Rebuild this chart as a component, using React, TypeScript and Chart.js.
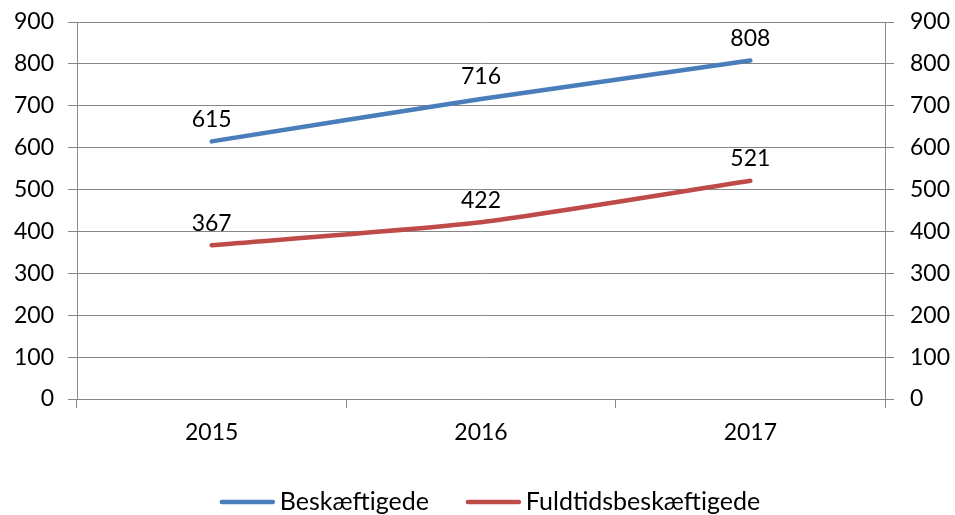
import React, { useEffect, useRef } from "react";
import { Chart, registerables } from "chart.js";

Chart.register(...registerables);

const categories = ["2015", "2016", "2017"];
const beskaeftigede = [615, 716, 808];
const fuldtids = [367, 422, 521];
const seriesNames = ["Beskæftigede", "Fuldtidsbeskæftigede"];
const seriesColors = ["#4A7EBB", "#BE4B48"];

const FONT = "Lato, 'Open Sans', sans-serif";

const dataLabels = {
  id: "dataLabels",
  afterDatasetsDraw(chart: any) {
    const ctx = chart.ctx;
    ctx.save();
    ctx.font = `23px ${FONT}`;
    ctx.fillStyle = "#000";
    ctx.textAlign = "center";
    ctx.textBaseline = "middle";
    chart.data.datasets.forEach((ds: any, i: number) => {
      const meta = chart.getDatasetMeta(i);
      meta.data.forEach((pt: any, j: number) => {
        ctx.fillText(String(ds.data[j]), pt.x, pt.y - 22);
      });
    });
    ctx.restore();
  },
};

const bottomLegend = {
  id: "bottomLegend",
  afterDraw(chart: any) {
    const ctx = chart.ctx;
    ctx.save();
    ctx.font = `25px ${FONT}`;
    ctx.textBaseline = "middle";
    ctx.textAlign = "left";
    const lineW = 55;
    const gapText = 5;
    const gapItem = 37;
    const widths = chart.data.datasets.map((d: any) => ctx.measureText(d.label).width);
    const total = widths.reduce((a: number, w: number) => a + lineW + gapText + w, 0) + gapItem * (widths.length - 1);
    const cx = (chart.chartArea.left + chart.chartArea.right) / 2 + 9;
    let x = cx - total / 2;
    const y = 502;
    chart.data.datasets.forEach((d: any, i: number) => {
      ctx.strokeStyle = d.borderColor;
      ctx.lineWidth = 4.5;
      ctx.lineCap = "round";
      ctx.beginPath();
      ctx.moveTo(x + 2, y);
      ctx.lineTo(x + lineW - 2, y);
      ctx.stroke();
      ctx.fillStyle = "#000";
      ctx.fillText(d.label, x + lineW + gapText, y);
      x += lineW + gapText + widths[i] + gapItem;
    });
    ctx.restore();
  },
};

function yAfterFit(width: number) {
  return (s: any) => {
    s.width = width;
    s.paddingTop = 22;
    s.paddingBottom = 0;
  };
}

export default function App() {
  const ref = useRef<HTMLCanvasElement>(null);
  useEffect(() => {
    const chart = new Chart(ref.current!, {
      type: "line",
      data: {
        labels: categories,
        datasets: [
          {
            label: seriesNames[0],
            data: beskaeftigede,
            borderColor: seriesColors[0],
            backgroundColor: seriesColors[0],
            borderWidth: 4.5,
            borderCapStyle: "round",
            pointRadius: 0,
            tension: 0.2,
            yAxisID: "y",
          },
          {
            label: seriesNames[1],
            data: fuldtids,
            borderColor: seriesColors[1],
            backgroundColor: seriesColors[1],
            borderWidth: 4.5,
            borderCapStyle: "round",
            pointRadius: 0,
            tension: 0.2,
            yAxisID: "y",
          },
        ],
      },
      options: {
        animation: false,
        responsive: false,
        layout: { padding: { top: 0, left: 0, right: 0, bottom: 0 } },
        plugins: {
          legend: { display: false },
          tooltip: { enabled: false },
        },
        scales: {
          x: {
            offset: true,
            grid: {
              offset: true,
              drawOnChartArea: false,
              color: "#878787",
              tickLength: 9,
            },
            border: { color: "#878787" },
            ticks: { color: "#000", font: { family: FONT, size: 23 }, padding: 11 },
            afterFit(s: any) {
              s.height = 116;
              s.paddingLeft = 0;
              s.paddingRight = 0;
            },
          },
          y: {
            position: "left",
            min: 0,
            max: 900,
            ticks: { stepSize: 100, color: "#000", font: { family: FONT, size: 23 }, padding: 14 },
            grid: { color: "#878787", tickLength: 9 },
            border: { color: "#878787" },
            afterFit: yAfterFit(77),
          },
          y2: {
            position: "right",
            min: 0,
            max: 900,
            ticks: { stepSize: 100, color: "#000", font: { family: FONT, size: 23 }, padding: 16 },
            grid: { drawOnChartArea: false, color: "#878787", tickLength: 9 },
            border: { color: "#878787" },
            afterFit: yAfterFit(70),
          },
        },
      },
      plugins: [dataLabels, bottomLegend],
    } as any);
    return () => chart.destroy();
  }, []);
  return (
    <div style={{ position: "fixed", left: 0, top: 0, width: 955, height: 515, background: "#fff" }}>
      <canvas ref={ref} width={955} height={515} />
    </div>
  );
}
